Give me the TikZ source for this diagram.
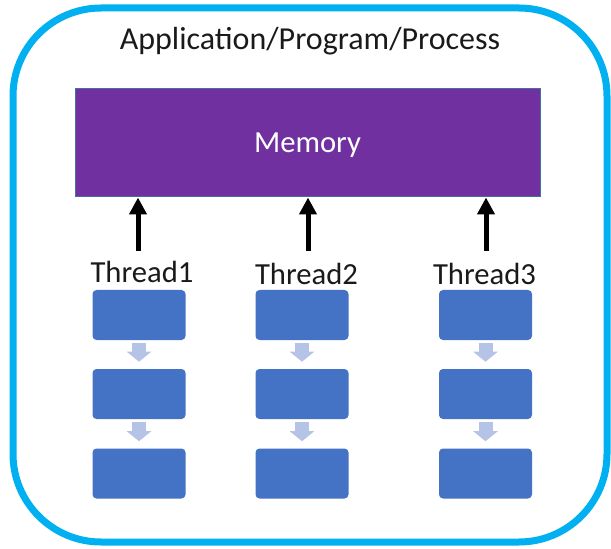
\documentclass[tikz,border=0pt]{standalone}
\usepackage{fontspec}
\setmainfont{Carlito}
\usetikzlibrary{arrows.meta}
\definecolor{outerc}{HTML}{00B0F0}
\definecolor{memc}{HTML}{7030A0}
\definecolor{memedge}{HTML}{41719C}
\definecolor{boxc}{HTML}{4472C4}
\definecolor{lightarr}{HTML}{B4C3E6}
\definecolor{textc}{HTML}{1A1A1A}
\begin{document}
\begin{tikzpicture}[x=0.75pt,y=-0.75pt,
  bigfont/.style={font=\fontsize{23}{28}\selectfont},
  outerbox/.style={draw=outerc, line width=5.25pt, rounded corners=66pt,
    minimum width=445.5pt, minimum height=400.5pt},
  membox/.style={fill=memc, draw=memedge, line width=0.75pt,
    minimum width=348.75pt, minimum height=81pt, text=white, bigfont,
    text height=14.5pt, text depth=0pt, inner sep=0pt},
  threadlabel/.style={anchor=base, bigfont, text=textc, inner sep=1pt},
  tbox/.style={fill=boxc, rounded corners=3pt, minimum width=69.75pt,
    minimum height=37.5pt, inner sep=0pt},
  blackarrow/.style={-{Triangle[length=12.75pt,width=12.75pt]}, line width=3.75pt, black},
  lightarrow/.style={-{Triangle[length=7.5pt,width=18pt]}, line width=10.5pt,
    lightarr, shorten <=2.25pt, shorten >=5.25pt}
]
\useasboundingbox (0,0) rectangle (611,549);
\node[outerbox] (outer) at (310,275) {};
\node[anchor=base, font=\fontsize{24}{29}\selectfont, text=textc] (title) at (310,50) {Application/Program/Process};
\node[membox] (mem) at (307.5,143) {Memory};

\node[threadlabel] (t1) at (142,282) {Thread1};
\node[threadlabel] (t2) at (306.5,285) {Thread2};
\node[threadlabel] (t3) at (484.5,285) {Thread3};

\coordinate (a1) at (138,251);
\coordinate (a2) at (308,251);
\coordinate (a3) at (486,251);
\draw[blackarrow] (a1) -- (a1 |- mem.south);
\draw[blackarrow] (a2) -- (a2 |- mem.south);
\draw[blackarrow] (a3) -- (a3 |- mem.south);

\foreach \c/\x in {1/139,2/302,3/485.5}{
  \node[tbox] (b\c1) at (\x,315) {};
  \node[tbox] (b\c2) at (\x,394) {};
  \node[tbox] (b\c3) at (\x,473.5) {};
  \draw[lightarrow] (b\c1.south) -- (b\c2.north);
  \draw[lightarrow] (b\c2.south) -- (b\c3.north);
}
\end{tikzpicture}
\end{document}
